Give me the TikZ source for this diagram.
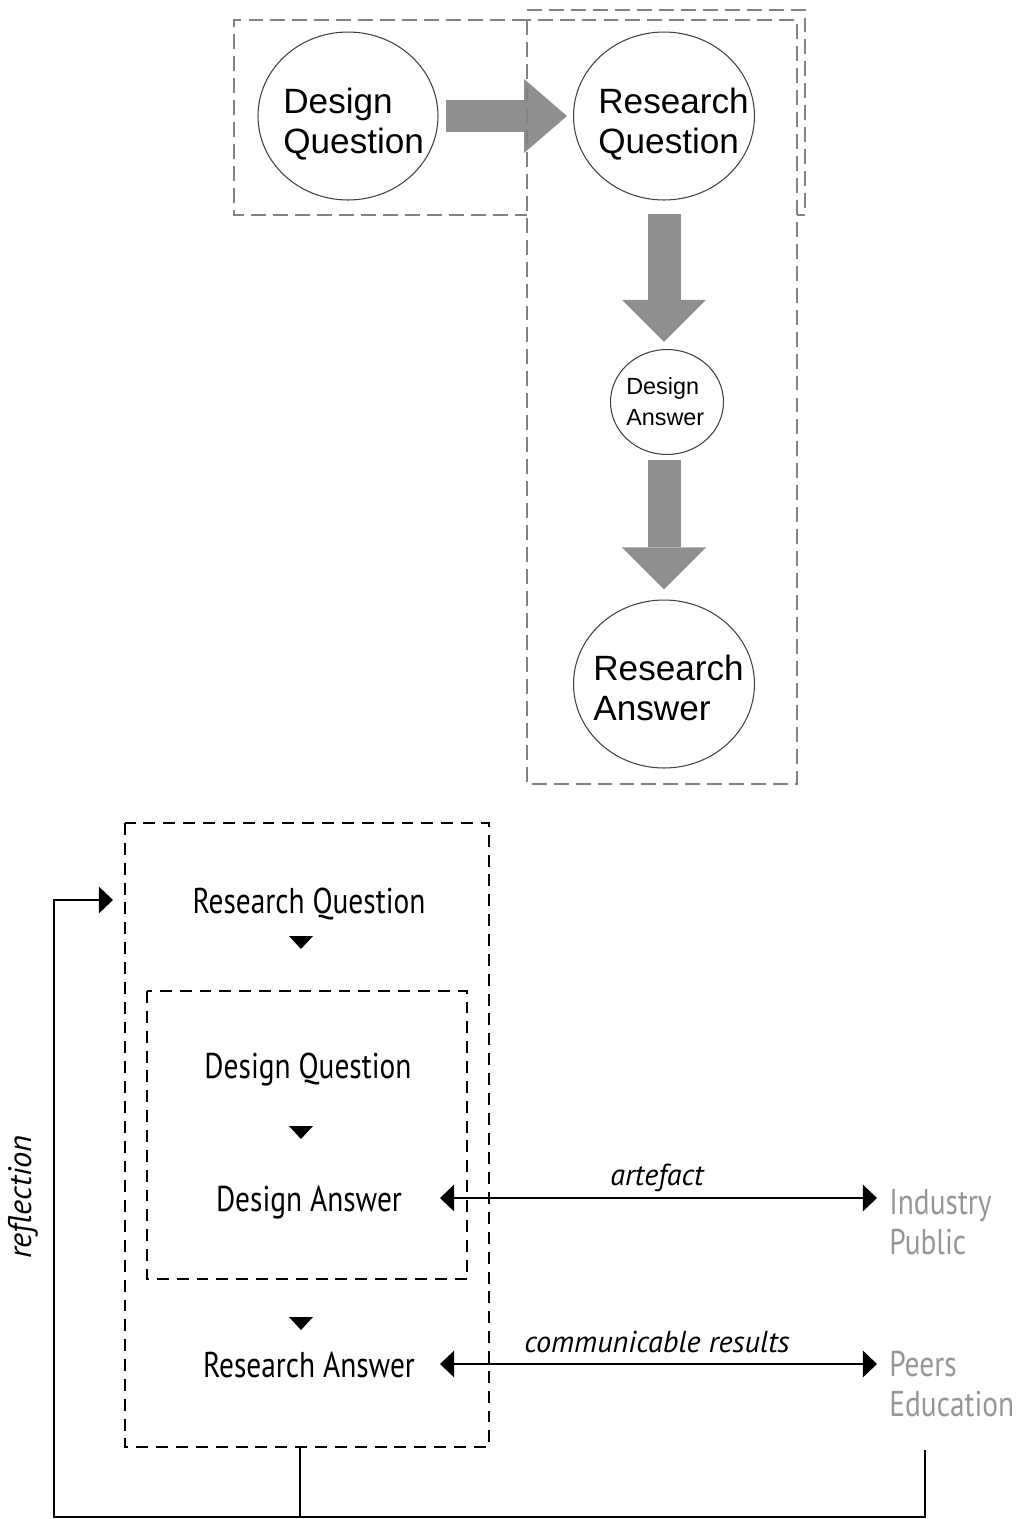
\documentclass[tikz,border=0pt]{standalone}
\usepackage{fontspec}
\usetikzlibrary{arrows.meta,shapes.geometric}
\newfontfamily\bubblefont{Liberation Sans}
\newfontfamily\stepfont[FakeStretch=0.82]{PT Sans}
\newfontfamily\flowfont{PT Sans}
\definecolor{fatgray}{RGB}{143,143,143}
\definecolor{boxgray}{RGB}{130,130,130}
\definecolor{audience}{RGB}{150,150,150}
\tikzset{headtip/.tip={Triangle[length=8pt, width=15pt]}}

\begin{document}
\begin{tikzpicture}[x=0.02cm, y=-0.02cm,
  bubble/.style={ellipse, draw=black!75, line width=0.6pt, inner sep=0pt},
  bubbletext/.style={inner sep=0pt, align=left, anchor=west,
                     font=\bubblefont\fontsize{20}{22.7}\selectfont},
  smalltext/.style={bubbletext, font=\bubblefont\fontsize{13.3}{17.5}\selectfont},
  fatarrow/.style={draw=fatgray, line width=0.66cm,
                   -{Triangle[length=0.84cm, width=1.68cm, line width=0pt]}},
  widearrow/.style={draw=fatgray, line width=0.64cm,
                   -{Triangle[length=0.86cm, width=1.48cm, line width=0pt]}},
  greybox/.style={draw=boxgray, line width=0.7pt, dash pattern=on 8.5pt off 4pt},
  blackbox/.style={draw=black, line width=1.1pt, dash pattern=on 6.8pt off 4.5pt},
  steplabel/.style={inner sep=0pt, font=\stepfont\fontsize{20.4}{22.7}\selectfont},
  flowlabel/.style={inner sep=0pt, font=\flowfont\itshape\fontsize{17.2}{20}\selectfont},
  audlabel/.style={inner sep=0pt, align=left, text=audience,
                   font=\stepfont\fontsize{20.4}{22.7}\selectfont},
  link/.style={draw=black, line width=1.1pt}
]
\useasboundingbox (0,0) rectangle (1018,1519);

% ---------- upper model: bubbles and fat arrows ----------
\node[bubble, minimum width=3.6cm, minimum height=3.36cm] (dq) at (348,116) {};
\node[bubble, minimum width=3.62cm, minimum height=3.36cm] (rq) at (664,116) {};
\node[bubble, minimum width=2.26cm, minimum height=2.1cm] (da) at (667,402) {};
\node[bubble, minimum width=3.62cm, minimum height=3.36cm] (ra) at (664,684) {};

\node[bubbletext] (dqt) at (283,124) {Design\\Question};
\node[bubbletext] (rqt) at (598,124) {Research\\Question};
\node[smalltext]  (dat) at (626,401.5) {Design\\Answer};
\node[bubbletext] (rat) at (593,688) {Research\\Answer};

\draw[widearrow, shorten <=4pt, shorten >=3.4pt] (dq.east) -- (rq.west);
\draw[fatarrow, shorten <=7.4pt, shorten >=4pt] (rq.south) -- (rq.south |- da.north);
\draw[fatarrow, shorten <=2.8pt, shorten >=5.7pt] (rq.south |- da.south) -- (rq.south |- ra.north);

% dashed frames
\draw[greybox] (527,20) -- (234,20) -- (234,215) -- (527,215);
\draw[greybox] (527,20) rectangle (797,784);
\draw[greybox] (527,10) -- (805,10) -- (805,215) -- (797,215);

% ---------- lower model ----------
\draw[blackbox] (125,823) rectangle (489,1447);
\draw[blackbox] (147,991) rectangle (467,1279);

\node[steplabel] (lrq) at (309,904) {Research Question};
\node[steplabel] (ldq) at (308,1070) {Design Question};
\node[steplabel] (lda) at (309,1203) {Design Answer};
\node[steplabel] (lra) at (309,1365) {Research Answer};

\foreach \yy in {936,1126,1317}
  \fill (289,\yy) -- (313,\yy) -- (301,\yy+13) -- cycle;

\node[audlabel, anchor=west] (ind) at (889,1222) {Industry\\Public};
\node[audlabel, anchor=west] (peer) at (889,1384) {Peers\\Education};

\coordinate (artL) at (440,1198);
\coordinate (artR) at (877,1198);
\coordinate (comL) at (440,1364);
\coordinate (comR) at (877,1364);
\draw[link, {headtip}-{headtip}] (artL) -- (artR);
\draw[link, {headtip}-{headtip}] (comL) -- (comR);
\node[flowlabel] (art) at (657,1178) {artefact};
\node[flowlabel] (com) at (657,1342) {communicable results};

% reflection loop
\coordinate (outS) at (300,1447);
\coordinate (peerS) at (925,1450);
\coordinate (loopL) at (54,1517);
\coordinate (entry) at (113,900);
\draw[link, -{headtip}] (outS) |- (loopL) |- (entry);
\draw[link] (peerS) -- (peerS |- loopL) -- (outS |- loopL);
\node[flowlabel, rotate=90, font=\flowfont\itshape\fontsize{18.5}{20}\selectfont] (refl) at (23,1197) {reflection};

\end{tikzpicture}
\end{document}
